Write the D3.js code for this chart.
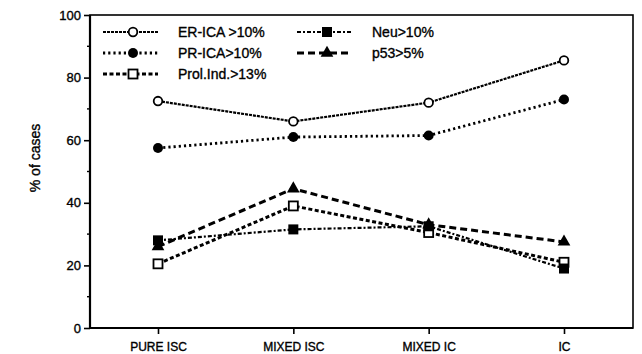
<!DOCTYPE html>
<html lang="en">
<head>
  <meta charset="UTF-8"/>
  <title>% of cases by group</title>
  <script src="https://d3js.org/d3.v7.min.js"></script>
  <style>
    body { margin: 0; background: #fff; }
    text { font-family: Arial, "Liberation Sans", Helvetica, sans-serif; fill: #000; stroke: #000; stroke-width: 0.35px; }
  </style>
</head>
<body>
<svg id="chart"></svg>
<script>
// categories on the x axis
const categories = ["PURE ISC", "MIXED ISC", "MIXED IC", "IC"];

// series values (% of cases)
const erIca   = [72.5, 66, 72, 85.5];
const prIca   = [57.5, 61, 61.5, 73];
const prolInd = [20.5, 39, 30.5, 21];
const neu     = [28, 31.5, 32.5, 19];
const p53     = [26, 44.5, 33, 27.5];

const yTicks = [0, 20, 40, 60, 80, 100];

const series = [
  { name: "ER-ICA >10%",    values: erIca,   dash: "3,1",     width: 2.2, marker: "circleOpen", col: 0, row: 0 },
  { name: "PR-ICA>10%",     values: prIca,   dash: "2.2,3",   width: 2.8, marker: "circle",     col: 0, row: 1 },
  { name: "Prol.Ind.>13%",  values: prolInd, dash: "4,2.5",   width: 3,   marker: "squareOpen", col: 0, row: 2 },
  { name: "Neu>10%",        values: neu,     dash: "4,2,2,2", width: 2.2, marker: "square",     col: 1, row: 0 },
  { name: "p53>5%",         values: p53,     dash: "7,4",     width: 3,   marker: "triangle",   col: 1, row: 1 }
];

const W = 642, H = 354;
const mLeft = 90, mRight = 633, mTop = 15, mBottom = 328;

const svg = d3.select("#chart").attr("width", W).attr("height", H);

const x = d3.scalePoint().domain(categories).range([158, 564]);
const y = d3.scaleLinear().domain([0, 100]).range([mBottom, mTop]);

// frame
svg.append("rect")
  .attr("x", mLeft).attr("y", mTop)
  .attr("width", mRight - mLeft).attr("height", mBottom - mTop)
  .attr("fill", "none").attr("stroke", "#000").attr("stroke-width", 1.6);
svg.append("line").attr("x1", mLeft).attr("x2", mLeft).attr("y1", mTop).attr("y2", mBottom + 1)
  .attr("stroke", "#000").attr("stroke-width", 2.2);
svg.append("line").attr("x1", mLeft).attr("x2", mRight).attr("y1", mBottom).attr("y2", mBottom)
  .attr("stroke", "#000").attr("stroke-width", 2.2);

// y axis
const yAxis = svg.append("g")
  .attr("transform", "translate(" + mLeft + ",0)")
  .call(d3.axisLeft(y).tickValues(yTicks).tickSize(6).tickPadding(3));
yAxis.select(".domain").remove();
yAxis.selectAll("line").attr("stroke-width", 1.6);
yAxis.selectAll("text").style("font-size", "13px").style("font-family", "Arial, 'Liberation Sans', sans-serif");

// minor ticks at 10s
svg.append("g").selectAll("line")
  .data(d3.range(10, 100, 20))
  .join("line")
  .attr("x1", mLeft - 3).attr("x2", mLeft)
  .attr("y1", d => y(d)).attr("y2", d => y(d))
  .attr("stroke", "#000").attr("stroke-width", 1.4);

// x axis
const xAxis = svg.append("g")
  .attr("transform", "translate(0," + mBottom + ")")
  .call(d3.axisBottom(x).tickSize(6).tickPadding(8));
xAxis.select(".domain").remove();
xAxis.selectAll("line").attr("stroke-width", 1.6);
xAxis.selectAll("text").style("font-size", "12px").style("font-family", "Arial, 'Liberation Sans', sans-serif");

// y title
svg.append("text")
  .attr("transform", "translate(40,158) rotate(-90)")
  .attr("text-anchor", "middle")
  .style("font-size", "14px")
  .text("% of cases");

function drawMarker(g, type, cx, cy) {
  if (type === "circleOpen") {
    g.append("circle").attr("cx", cx).attr("cy", cy).attr("r", 4.3)
      .attr("fill", "#fff").attr("stroke", "#000").attr("stroke-width", 1.8);
  } else if (type === "circle") {
    g.append("circle").attr("cx", cx).attr("cy", cy).attr("r", 5)
      .attr("fill", "#000");
  } else if (type === "squareOpen") {
    g.append("rect").attr("x", cx - 4.5).attr("y", cy - 4.5).attr("width", 9).attr("height", 9)
      .attr("fill", "#fff").attr("stroke", "#000").attr("stroke-width", 1.8);
  } else if (type === "square") {
    g.append("rect").attr("x", cx - 5).attr("y", cy - 5).attr("width", 10).attr("height", 10)
      .attr("fill", "#000");
  } else if (type === "triangle") {
    g.append("path")
      .attr("d", d3.symbol().type(d3.symbolTriangle).size(70))
      .attr("transform", "translate(" + cx + "," + cy + ")")
      .attr("fill", "#000");
  }
}

const line = d3.line()
  .x((d, i) => x(categories[i]))
  .y(d => y(d));

// draw lines first, then markers
series.forEach(s => {
  svg.append("path")
    .attr("d", line(s.values))
    .attr("fill", "none")
    .attr("stroke", "#000")
    .attr("stroke-width", s.width)
    .attr("stroke-dasharray", s.dash);
});
series.forEach(s => {
  const g = svg.append("g");
  s.values.forEach((v, i) => drawMarker(g, s.marker, x(categories[i]), y(v)));
});

// legend
const legendX = [103, 297], legendTextX = [178, 372], rowY = [32, 53, 74];
series.forEach(s => {
  const g = svg.append("g");
  const x0 = legendX[s.col], yy = rowY[s.row];
  g.append("line")
    .attr("x1", x0).attr("x2", x0 + 55).attr("y1", yy).attr("y2", yy)
    .attr("stroke", "#000").attr("stroke-width", s.width)
    .attr("stroke-dasharray", s.dash);
  drawMarker(g, s.marker, x0 + 30, yy);
  g.append("text")
    .attr("x", legendTextX[s.col]).attr("y", yy + 5)
    .style("font-size", "14px")
    .text(s.name);
});
</script>
</body>
</html>
